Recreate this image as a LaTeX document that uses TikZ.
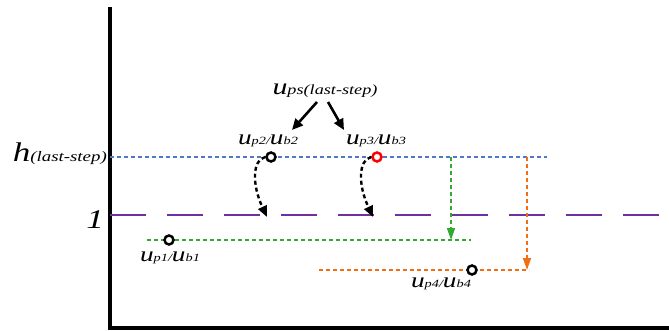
\documentclass[tikz,border=0pt]{standalone}
\usepackage{fontspec}
\usepackage{graphicx}
\setmainfont{Liberation Serif}
\usetikzlibrary{arrows.meta}
\definecolor{blueln}{RGB}{80,120,200}
\definecolor{purpleln}{RGB}{112,48,160}
\definecolor{greenln}{RGB}{50,170,50}
\definecolor{orangeln}{RGB}{240,110,20}
% wide italic lettering
\newcommand{\wide}[1]{\scalebox{1.3}[1]{\itshape #1}}
\newcommand{\fs}[1]{\fontsize{#1}{#1}\selectfont}
\newcommand{\ulab}[2]{\wide{\fs{21}u\fs{11}p#1/\fs{21}u\fs{11}b#2}}
\begin{document}
\begin{tikzpicture}[x=1pt,y=-1pt,
  axis/.style={line width=3.2pt},
  level/.style={line width=1.6pt, dash pattern=on 4pt off 3pt},
  unitline/.style={line width=2.4pt, color=purpleln, dash pattern=on 36pt off 21pt},
  pt/.style={circle, draw, line width=2.5pt, inner sep=0pt, minimum size=9pt, fill=white},
  lbl/.style={inner sep=0pt, anchor=base},
  jump/.style={line width=2.4pt, dash pattern=on 4pt off 3pt, -{Triangle[length=11pt,width=9pt]}},
  drop/.style={line width=1.6pt, dash pattern=on 4pt off 3pt, -{Triangle[length=12pt,width=8pt]}},
  push/.style={line width=2.6pt, -{Triangle[length=11pt,width=10pt]}}]
\useasboundingbox (0,0) rectangle (669,331);

% axes
\coordinate (top) at (110,7);
\coordinate (origin) at (110,328);
\coordinate (right) at (669,328);
\draw[axis] (top) -- (origin) -- (right);

% reference levels
\coordinate (hL) at (110,157);
\coordinate (hR) at (547,157);
\draw[level, blueln] (hL) -- (hR);
\coordinate (oneL) at (110,215);
\coordinate (oneR) at (659,215);
\draw[unitline] (oneL) -- (oneR);

\node[anchor=base east, inner sep=0pt] (hlab) at (107,162)
  {\wide{\fs{27}h\fs{14.5}(last-step)}};
\node[anchor=base east, inner sep=0pt] (onelab) at (104,229)
  {\wide{\fs{27}1}};

% point 1 and the green level
\coordinate (gL) at (147,240);
\coordinate (gR) at (471,240);
\draw[level, greenln] (gL) -- (gR);
\node[pt] (p1) at (169,240) {};
\node[lbl] (l1) at (170,261) {\ulab{1}{1}};

% point 4 and the orange level
\coordinate (oL) at (319,270);
\coordinate (oR) at (529,270);
\draw[level, orangeln] (oL) -- (oR);
\node[pt] (p4) at (472,270) {};
\node[lbl] (l4) at (441,287) {\ulab{4}{4}};

% points 2 and 3 on the upper level
\node[pt] (p2) at (271,157) {};
\node[pt, draw=red] (p3) at (377,157) {};
\node[lbl] (l2) at (268,145) {\ulab{2}{2}};
\node[lbl] (l3) at (376,145) {\ulab{3}{3}};

% source label with its two arrows
\node[lbl] (ups) at (325,95) {\wide{\fs{23}u\fs{14}ps(last-step)}};
\coordinate (a2s) at (317,102);
\coordinate (a2e) at (292,130);
\coordinate (a3s) at (328,102);
\coordinate (a3e) at (344,130);
\draw[push] (a2s) -- (a2e);
\draw[push] (a3s) -- (a3e);

% curved drops to the unit level
\coordinate (t2) at (267,217);
\coordinate (t3) at (373,217);
\draw[jump] (p2.west) .. controls (252,160) and (252,185) .. (t2);
\draw[jump] (p3.west) .. controls (358,160) and (358,185) .. (t3);

% vertical drops from the upper level
\coordinate (gv) at (451,157);
\coordinate (gvEnd) at (451,240);
\draw[drop, greenln] (gv) -- (gvEnd);
\coordinate (ov) at (527,157);
\coordinate (ovEnd) at (527,270);
\draw[drop, orangeln] (ov) -- (ovEnd);
\end{tikzpicture}
\end{document}
